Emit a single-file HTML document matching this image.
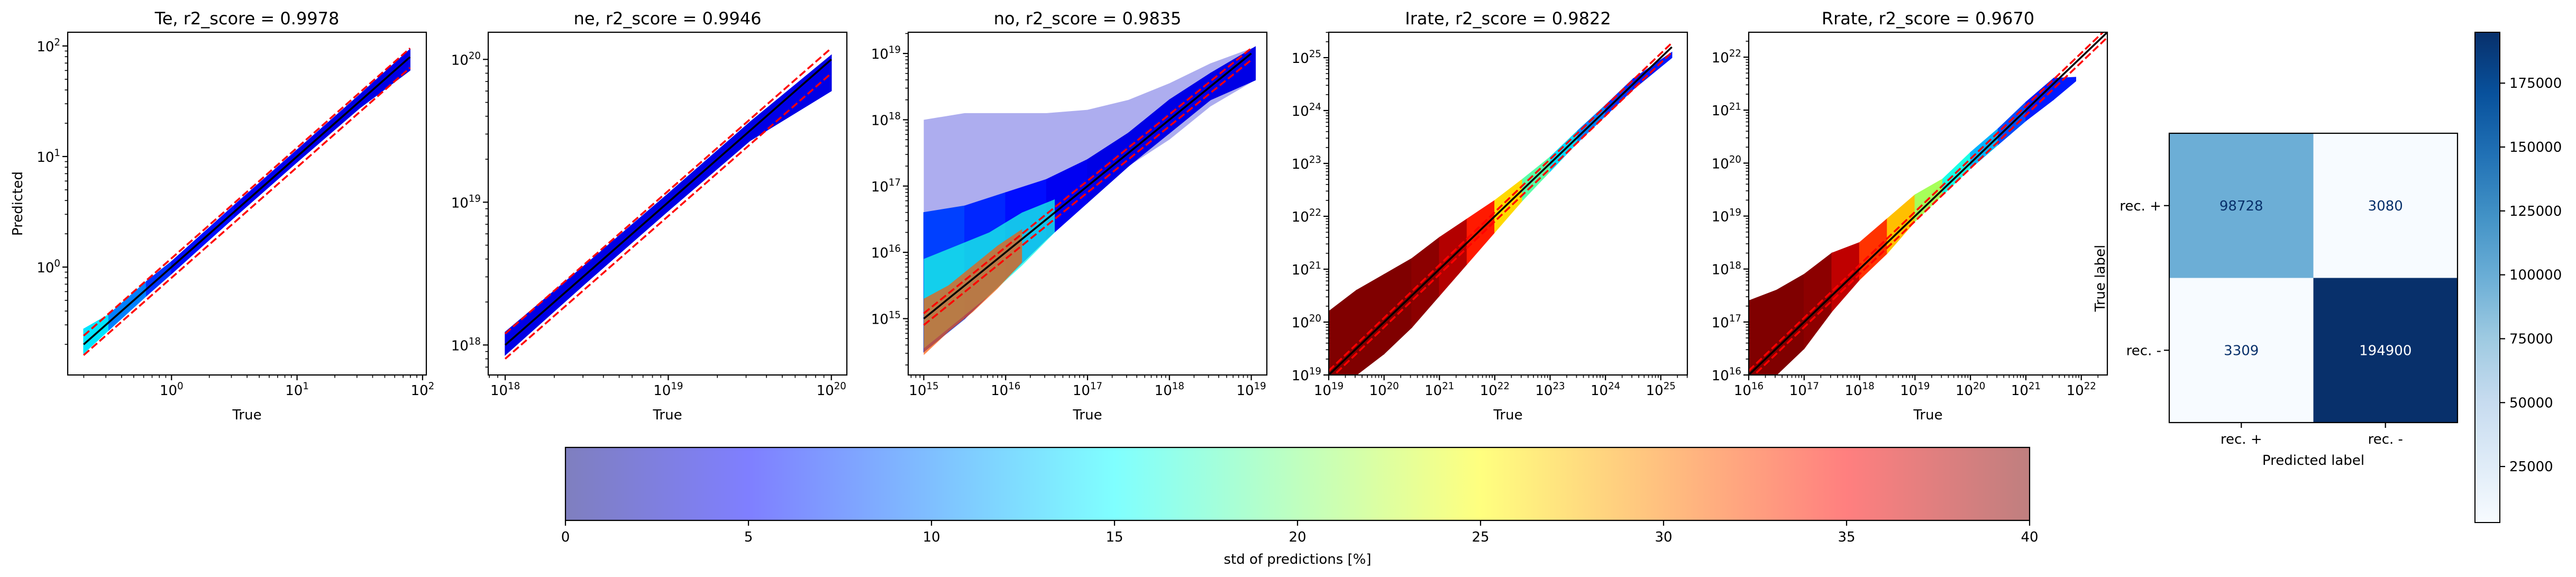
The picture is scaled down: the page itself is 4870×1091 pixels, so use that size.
<!DOCTYPE html>
<html><head><meta charset="utf-8"><style>
html,body{margin:0;padding:0;background:#fff;}
svg{display:block;font-family:"DejaVu Sans","Liberation Sans",sans-serif;}
</style></head><body>
<svg id="fig" width="4870" height="1091" viewBox="0 0 4870 1091" xmlns="http://www.w3.org/2000/svg">
<defs>
<linearGradient id="jetGrad" x1="0" x2="1" y1="0" y2="0">
<stop offset="0" stop-color="#7f7fbf"/><stop offset="0.125" stop-color="#7f7fff"/><stop offset="0.25" stop-color="#7fbfff"/><stop offset="0.375" stop-color="#7fffff"/><stop offset="0.5" stop-color="#bfffbf"/><stop offset="0.625" stop-color="#ffff7f"/><stop offset="0.75" stop-color="#ffbf7f"/><stop offset="0.875" stop-color="#ff7f7f"/><stop offset="1" stop-color="#bf7f7f"/>
</linearGradient>
<linearGradient id="bluesGrad" x1="0" x2="0" y1="1" y2="0">
<stop offset="0" stop-color="#f7fbff"/><stop offset="0.125" stop-color="#deebf7"/><stop offset="0.25" stop-color="#c6dbef"/><stop offset="0.375" stop-color="#9ecae1"/><stop offset="0.5" stop-color="#6baed6"/><stop offset="0.625" stop-color="#4292c6"/><stop offset="0.75" stop-color="#2171b5"/><stop offset="0.875" stop-color="#08519c"/><stop offset="1" stop-color="#08306b"/>
</linearGradient>
</defs>
</svg>
<script>
// ===== Data (log10 values) =====
const panelTitles = ["Te, r2_score = 0.9978","ne, r2_score = 0.9946","no, r2_score = 0.9835","Irate, r2_score = 0.9822","Rrate, r2_score = 0.9670"];
const xLimits = [[-0.827,2.03],[17.896,20.095],[14.81,19.19],[19,25.48],[16,22.47]];
const yLimits = [[-0.976,2.124],[17.79,20.19],[14.15,19.32],[19,25.48],[16,22.47]];
const identityRange = [[-0.7,1.9],[18,20],[15,19],[19,25.2],[16,22.47]];
const upperFactor = 1.2;
const lowerFactor = 0.8;

// Te band
const teX   = [-0.7,-0.5,-0.2,0,0.5,1,1.5,1.9];
const teLo  = [-0.78,-0.57,-0.26,-0.06,0.45,0.95,1.44,1.78];
const teHi  = [-0.56,-0.43,-0.13,0.05,0.56,1.06,1.56,1.97];
const teStd = [16,12,8,6,5,4,4,4];
// ne band
const neX   = [18,18.5,19,19.5,20];
const neLo  = [17.93,18.44,18.94,19.43,19.78];
const neHi  = [18.09,18.57,19.06,19.56,20.03];
const neStd = [4,4,4,4,4];
// no bands
const noSparseX = [15,15.5,16,16.5,17,17.5,18,18.5,19.05];
const noSparseLo = [15.6,16.0,16.4,16.7,17.0,17.3,17.7,18.2,18.6];
const noSparseHi = [18.0,18.1,18.1,18.1,18.15,18.3,18.55,18.85,19.1];
const noSparseStd = [3,3,3,3,3,3,3,3,3];
const noDenseX = [15,15.5,16,16.5,17,17.5,18,18.5,19.05];
const noDenseLo = [14.5,15.0,15.6,16.2,16.75,17.3,17.8,18.3,18.6];
const noDenseHi = [16.6,16.7,16.9,17.1,17.4,17.8,18.3,18.7,19.1];
const noDenseStd = [8,7,6,5,4,4,4,4,4];
const noMidX = [15,15.4,15.8,16.2,16.6];
const noMidLo = [14.55,14.95,15.35,15.8,16.3];
const noMidHi = [15.9,16.1,16.3,16.6,16.8];
const noMidStd = [18,17,16,15,14];
const noWarmX = [15,15.3,15.6,15.9,16.2];
const noWarmLo = [14.45,14.8,15.1,15.45,15.85];
const noWarmHi = [15.3,15.5,15.8,16.1,16.35];
const noWarmStd = [36,33,31,30,28];
// Irate band
const irX   = [19,19.5,20,20.5,21,21.5,22,22.5,23,23.5,24,24.5,25.2];
const irLo  = [18.8,19.0,19.4,19.9,20.5,21.1,21.7,22.3,22.85,23.4,23.9,24.4,25.0];
const irHi  = [20.2,20.6,20.9,21.2,21.6,21.95,22.3,22.7,23.12,23.62,24.1,24.6,25.1];
const irStd = [40,40,40,40,39,37,31,22,15,12,8,6,6];
// Rrate band
const rrX   = [16,16.5,17,17.5,18,18.5,19,19.5,20,20.5,21,21.5,21.9];
const rrLo  = [15.9,16.0,16.5,17.2,17.8,18.3,18.9,19.4,19.9,20.35,20.8,21.2,21.55];
const rrHi  = [17.4,17.6,17.9,18.3,18.5,18.95,19.4,19.7,20.2,20.65,21.15,21.6,21.62];
const rrStd = [40,40,40,39,36,30,25,18,14,10,6,6,6];

// Confusion matrix
const cmRowLabels = ["rec. +","rec. -"];
const cmColLabels = ["rec. +","rec. -"];
const cmValues = [[98728,3080],[3309,194900]];
const cmTicks = [25000,50000,75000,100000,125000,150000,175000];
const stdTicks = [0,5,10,15,20,25,30,35,40];
const stdMax = 40;

// ===== helpers =====
const NS="http://www.w3.org/2000/svg";
const fig=document.getElementById('fig');
function mk(tag,attrs,parent){const e=document.createElementNS(NS,tag);for(const k in attrs)e.setAttribute(k,attrs[k]);(parent||fig).appendChild(e);return e;}
function jet(t){const c=v=>Math.max(0,Math.min(1,v));const r=c(1.5-Math.abs(4*t-3)),g=c(1.5-Math.abs(4*t-2)),b=c(1.5-Math.abs(4*t-1));return `rgb(${Math.round(r*255)},${Math.round(g*255)},${Math.round(b*255)})`;}
function supText(parent,x,y,base,exp,anchor,fs){
  const t=mk('text',{x:x,y:y,'font-size':fs,'text-anchor':anchor,fill:'#000'},parent);
  t.appendChild(document.createTextNode(base));
  const s=mk('tspan',{dy:-fs*0.42,'font-size':fs*0.7},t);s.textContent=exp;
  return t;
}

const bands=[
 [{x:teX,lo:teLo,hi:teHi,s:teStd,op:1}],
 [{x:neX,lo:neLo,hi:neHi,s:neStd,op:1}],
 [{x:noSparseX,lo:noSparseLo,hi:noSparseHi,s:noSparseStd,op:0.32},{x:noDenseX,lo:noDenseLo,hi:noDenseHi,s:noDenseStd,op:1},{x:noMidX,lo:noMidLo,hi:noMidHi,s:noMidStd,op:0.75},{x:noWarmX,lo:noWarmLo,hi:noWarmHi,s:noWarmStd,op:0.7}],
 [{x:irX,lo:irLo,hi:irHi,s:irStd,op:1}],
 [{x:rrX,lo:rrLo,hi:rrHi,s:rrStd,op:1}]
];
const panelNames=["te","ne","no","irate","rrate"];
const L0=128, STEP=794.5, W=678, T=61, H=648, FS=26;

panelTitles.forEach((title,i)=>{
  const L=Math.round(L0+i*STEP);
  const xl=xLimits[i], yl=yLimits[i];
  const sx=v=>L+(v-xl[0])/(xl[1]-xl[0])*W;
  const sy=v=>T+H-(v-yl[0])/(yl[1]-yl[0])*H;
  const g=mk('g',{});
  
  
  const cp=mk('clipPath',{id:'clip'+i},g);mk('rect',{x:L,y:T,width:W,height:H},cp);
  const plot=mk('g',{'clip-path':`url(#clip${i})`},g);
  
  
  bands[i].forEach(b=>{
    if(b.op<1){
      const meanS=b.s.reduce((a,c)=>a+c,0)/b.s.length;
      const col=jet(meanS/stdMax);
      const pts=[];
      for(let k=0;k<b.x.length;k++)pts.push([sx(b.x[k]),sy(b.lo[k])]);
      for(let k=b.x.length-1;k>=0;k--)pts.push([sx(b.x[k]),sy(b.hi[k])]);
      const poly=mk('polygon',{points:pts.map(p=>p.join(',')).join(' '),fill:col,'fill-opacity':b.op},plot);
      
      
      return;
    }
    for(let k=0;k<b.x.length-1;k++){
      const col=jet(((b.s[k]+b.s[k+1])/2)/stdMax);
      const pts=[[sx(b.x[k]),sy(b.lo[k])],[sx(b.x[k+1]),sy(b.lo[k+1])],[sx(b.x[k+1]),sy(b.hi[k+1])],[sx(b.x[k]),sy(b.hi[k])]];
      const poly=mk('polygon',{points:pts.map(p=>p.join(',')).join(' '),fill:col,stroke:col,'stroke-width':1.5},plot);
      
      
    }
  });
  const r=identityRange[i];
  const ln=mk('line',{x1:sx(r[0]),y1:sy(r[0]),x2:sx(r[1]),y2:sy(r[1]),stroke:'#000','stroke-width':3.5},plot);
  
  
  [upperFactor,lowerFactor].forEach(f=>{
    const d=Math.log10(f);
    const dl=mk('line',{x1:sx(r[0]),y1:sy(r[0]+d),x2:sx(r[1]),y2:sy(r[1]+d),stroke:'#ff0000','stroke-width':3.5,'stroke-dasharray':'14,6'},plot);
    
    
  });
  const fr=mk('rect',{x:L,y:T,width:W,height:H,fill:'none',stroke:'#000','stroke-width':2.2},g);
  
  
  for(let d=Math.floor(xl[0]);d<=Math.ceil(xl[1]);d++){
    for(let m=1;m<=9;m++){
      const v=d+Math.log10(m); if(v<xl[0]-1e-6||v>xl[1]+1e-6)continue;
      const x=sx(v);
      mk('line',{x1:x,y1:T+H,x2:x,y2:T+H+(m===1?10:5.5),stroke:'#000','stroke-width':m===1?2.2:1.6},g);
      if(m===1){const t=supText(g,x,T+H+38,'10',String(d),'middle',FS);
        }
    }
  }
  for(let d=Math.floor(yl[0]);d<=Math.ceil(yl[1]);d++){
    for(let m=1;m<=9;m++){
      const v=d+Math.log10(m); if(v<yl[0]-1e-6||v>yl[1]+1e-6)continue;
      const y=sy(v);
      mk('line',{x1:L,y1:y,x2:L-(m===1?10:5.5),y2:y,stroke:'#000','stroke-width':m===1?2.2:1.6},g);
      if(m===1){const t=supText(g,L-14,y+10,'10',String(d),'end',FS);
        }
    }
  }
  const tt=mk('text',{x:L+W/2,y:46,'font-size':32,'text-anchor':'middle'},g);tt.textContent=title;
  
  const xt=mk('text',{x:L+W/2,y:793,'font-size':FS,'text-anchor':'middle'},g);xt.textContent='True';
  
  if(i===0){const yt=mk('text',{x:0,y:0,'font-size':FS,'text-anchor':'middle',transform:`translate(42,385) rotate(-90)`},g);yt.textContent='Predicted';
    }
});

// ===== confusion matrix =====
const blues=["#f7fbff","#deebf7","#c6dbef","#9ecae1","#6baed6","#4292c6","#2171b5","#08519c","#08306b"];
function bluesColor(t){t=Math.max(0,Math.min(1,t));const p=t*8,k=Math.min(7,Math.floor(p)),f=p-k;
  const a=blues[k],b=blues[k+1];const h=(s,o)=>parseInt(s.substr(o,2),16);
  const c=[1,3,5].map(o=>Math.round(h(a,o)+(h(b,o)-h(a,o))*f));return `rgb(${c.join(',')})`;}
const flat=cmValues.flat();const vmin=Math.min(...flat),vmax=Math.max(...flat);
const CL=4101,CT=252,CW=545,CH=547;
const cmG=mk('g',{});
cmValues.forEach((row,ri)=>row.forEach((v,ci)=>{
  const t=(v-vmin)/(vmax-vmin);
  const cell=mk('rect',{x:CL+ci*CW/2,y:CT+ri*CH/2,width:CW/2+0.5,height:CH/2+0.5,fill:bluesColor(t)},cmG);
  
  const tx=mk('text',{x:CL+(ci+0.5)*CW/2,y:CT+(ri+0.5)*CH/2+9,'font-size':FS,'text-anchor':'middle',fill:t>0.5?'#ffffff':'#08306b'},cmG);
  tx.textContent=String(v);
}));
mk('rect',{x:CL,y:CT,width:CW,height:CH,fill:'none',stroke:'#000','stroke-width':2.2},cmG);
cmRowLabels.forEach((lab,k)=>{const y=CT+(k+0.5)*CH/2;
  mk('line',{x1:CL,y1:y,x2:CL-10,y2:y,stroke:'#000','stroke-width':2.2},cmG);
  const t=mk('text',{x:CL-15,y:y+9,'font-size':FS,'text-anchor':'end'},cmG);t.textContent=lab;
  });
cmColLabels.forEach((lab,k)=>{const x=CL+(k+0.5)*CW/2;
  mk('line',{x1:x,y1:CT+CH,x2:x,y2:CT+CH+10,stroke:'#000','stroke-width':2.2},cmG);
  const t=mk('text',{x:x,y:CT+CH+40,'font-size':FS,'text-anchor':'middle'},cmG);t.textContent=lab;
  });
const pl=mk('text',{x:CL+CW/2,y:879,'font-size':FS,'text-anchor':'middle'},cmG);pl.textContent='Predicted label';

const tl=mk('text',{x:0,y:0,'font-size':FS,'text-anchor':'middle',transform:'translate(3979,526) rotate(-90)'},cmG);tl.textContent='True label';


// vertical colorbar
const VB={x:4679,y:61,w:47,h:927};
const vcb=mk('g',{});
mk('rect',{x:VB.x,y:VB.y,width:VB.w,height:VB.h,fill:'url(#bluesGrad)',stroke:'#000','stroke-width':2},vcb);
cmTicks.forEach(v=>{const y=VB.y+VB.h-(v-vmin)/(vmax-vmin)*VB.h;
  mk('line',{x1:VB.x+VB.w,y1:y,x2:VB.x+VB.w+10,y2:y,stroke:'#000','stroke-width':2.2},vcb);
  const t=mk('text',{x:VB.x+VB.w+18,y:y+9,'font-size':FS},vcb);t.textContent=String(v);
  });

// horizontal std colorbar
const HB={x:1069,y:846,w:2768,h:138};
const hcb=mk('g',{});
mk('rect',{x:HB.x,y:HB.y,width:HB.w,height:HB.h,fill:'url(#jetGrad)',stroke:'#000','stroke-width':2.2},hcb);
stdTicks.forEach(v=>{const x=HB.x+v/stdMax*HB.w;
  mk('line',{x1:x,y1:HB.y+HB.h,x2:x,y2:HB.y+HB.h+10,stroke:'#000','stroke-width':2.2},hcb);
  const t=mk('text',{x:x,y:1024,'font-size':FS,'text-anchor':'middle'},hcb);t.textContent=String(v);
  });
const sl=mk('text',{x:HB.x+HB.w/2,y:1066,'font-size':FS,'text-anchor':'middle'},hcb);sl.textContent='std of predictions [%]';

</script>
</body></html>
